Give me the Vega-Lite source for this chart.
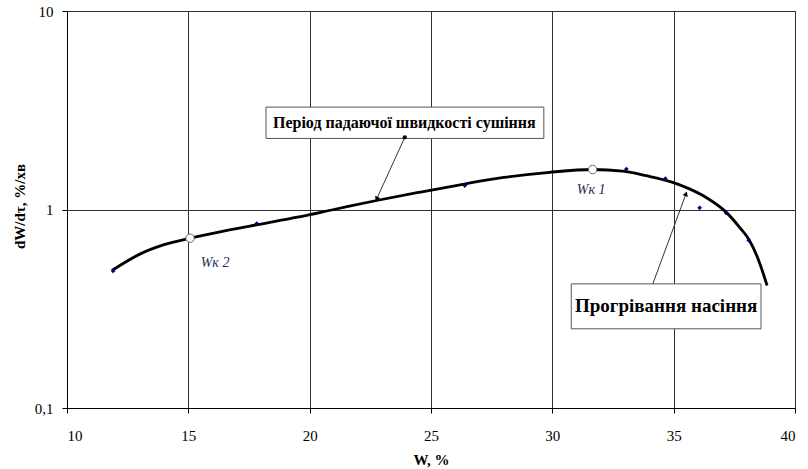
{
  "$schema": "https://vega.github.io/schema/vega-lite/v6.json",
  "width": 728,
  "height": 397,
  "autosize": {"type": "none"},
  "padding": {"left": 67, "top": 11, "right": 13, "bottom": 61},
  "background": "white",
  "config": {
    "view": {"stroke": "#8c8c8c", "strokeWidth": 1},
    "font": "Liberation Serif",
    "axis": {
      "labelFont": "Liberation Serif", "labelFontSize": 15, "labelColor": "#000",
      "titleFont": "Liberation Serif", "titleFontSize": 15, "titleFontWeight": "bold", "titleColor": "#000",
      "domainColor": "#000", "tickColor": "#000", "gridColor": "#303030", "gridWidth": 1, "gridOpacity": 1
    }
  },
  "datasets": {
    "curve": [
      {"W": 11.85, "R": 0.493}, {"W": 13.0, "R": 0.596}, {"W": 14.0, "R": 0.665}, 
      {"W": 15.07, "R": 0.717}, {"W": 16.5, "R": 0.78}, {"W": 18.0, "R": 0.845},
      {"W": 19.5, "R": 0.915}, {"W": 21.0, "R": 1.0}, {"W": 22.76, "R": 1.11}, 
      {"W": 24.5, "R": 1.22}, {"W": 26.31, "R": 1.34}, {"W": 28.0, "R": 1.45},
      {"W": 29.89, "R": 1.54}, {"W": 31.66, "R": 1.59}, {"W": 32.9, "R": 1.56},
      {"W": 33.87, "R": 1.48}, {"W": 34.96, "R": 1.37}, {"W": 35.65, "R": 1.27}, {"W": 36.34, "R": 1.15},
      {"W": 37.16, "R": 0.97}, {"W": 37.71, "R": 0.815}, {"W": 38.12, "R": 0.7}, {"W": 38.53, "R": 0.543},
      {"W": 38.85, "R": 0.414}
    ],
    "points": [
      {"W": 11.9, "R": 0.49}, {"W": 17.82, "R": 0.85}, {"W": 26.39, "R": 1.32}, {"W": 33.05, "R": 1.6},
      {"W": 34.66, "R": 1.43}, {"W": 36.07, "R": 1.02}, {"W": 37.16, "R": 0.96}, {"W": 38.09, "R": 0.7}
    ],
    "circles": [{"W": 15.07, "R": 0.717}, {"W": 31.66, "R": 1.59}],
    "boxes": [
      {"x1": 18.2, "x2": 29.65, "y1": 2.28, "y2": 3.28},
      {"x1": 30.78, "x2": 38.6, "y1": 0.2506, "y2": 0.422}
    ],
    "arrows": [
      {"x1": 23.92, "y1": 2.31, "x2": 22.76, "y2": 1.13},
      {"x1": 34.14, "y1": 0.422, "x2": 35.51, "y2": 1.2}
    ],
    "labels": [
      {"x": 31.6, "y": 1.25, "t": "Wк 1"},
      {"x": 16.1, "y": 0.54, "t": "Wк 2"}
    ],
    "notes": [
      {"x": 23.9, "y": 2.74, "t": "Період падаючої швидкості сушіння", "k": "a"},
      {"x": 34.69, "y": 0.325, "t": "Прогрівання насіння", "k": "b"}
    ]
  },
  "layer": [
    {
      "data": {"name": "curve"},
      "mark": {"type": "line", "opacity": 0},
      "encoding": {
        "x": {"field": "W", "type": "quantitative", "scale": {"domain": [10, 40], "nice": false, "zero": false},
          "axis": {"values": [10, 15, 20, 25, 30, 35, 40], "title": "W, %", "grid": true, "tickSize": 5, "labelPadding": 15, "titleY": 51, "titleBaseline": "middle"}},
        "y": {"field": "R", "type": "quantitative", "scale": {"type": "log", "domain": [0.1, 10], "nice": false},
          "axis": {"values": [0.1, 1, 10], "title": "dW/dτ, %/хв", "grid": true, "tickSize": 5, "labelPadding": 9,
            "labelExpr": "datum.value == 0.1 ? '0,1' : datum.value == 1 ? '1' : '10'", "titleX": -48, "titleY": 195, "titleBaseline": "middle"}}
      }
    },
    {
      "data": {"name": "boxes"},
      "mark": {"type": "rect", "fill": "white", "stroke": "#555", "strokeWidth": 1},
      "encoding": {
        "x": {"field": "x1", "type": "quantitative"}, "x2": {"field": "x2"},
        "y": {"field": "y1", "type": "quantitative"}, "y2": {"field": "y2"}
      }
    },
    {
      "data": {"name": "curve"},
      "mark": {"type": "line", "color": "#000", "strokeWidth": 2.8, "interpolate": "monotone"},
      "encoding": {"x": {"field": "W", "type": "quantitative"}, "y": {"field": "R", "type": "quantitative"}}
    },
    {
      "data": {"name": "points"},
      "mark": {"type": "point", "shape": "diamond", "filled": true, "color": "#00007f", "size": 22, "opacity": 1},
      "encoding": {"x": {"field": "W", "type": "quantitative"}, "y": {"field": "R", "type": "quantitative"}}
    },
    {
      "data": {"name": "circles"},
      "mark": {"type": "point", "shape": "circle", "filled": true, "fill": "white", "stroke": "#666", "strokeWidth": 1, "size": 70, "opacity": 1},
      "encoding": {"x": {"field": "W", "type": "quantitative"}, "y": {"field": "R", "type": "quantitative"}}
    },
    {
      "data": {"name": "arrows"},
      "mark": {"type": "rule", "color": "#333", "strokeWidth": 1},
      "encoding": {
        "x": {"field": "x1", "type": "quantitative"}, "x2": {"field": "x2"},
        "y": {"field": "y1", "type": "quantitative"}, "y2": {"field": "y2"}
      }
    },
    {
      "data": {"name": "arrows"},
      "transform": [{"filter": "datum.x1 < 30"}],
      "mark": {"type": "point", "shape": "triangle-up", "filled": true, "color": "#000", "size": 30, "angle": 204.7, "opacity": 1},
      "encoding": {"x": {"field": "x2", "type": "quantitative"}, "y": {"field": "y2", "type": "quantitative"}}
    },
    {
      "data": {"name": "arrows"},
      "transform": [{"filter": "datum.x1 > 30"}],
      "mark": {"type": "point", "shape": "triangle-up", "filled": true, "color": "#000", "size": 30, "angle": 20.4, "opacity": 1},
      "encoding": {"x": {"field": "x2", "type": "quantitative"}, "y": {"field": "y2", "type": "quantitative"}}
    },
    {
      "data": {"name": "arrows"},
      "transform": [{"filter": "datum.x1 < 30"}],
      "mark": {"type": "point", "shape": "circle", "filled": true, "color": "#000", "size": 18, "opacity": 1},
      "encoding": {"x": {"field": "x1", "type": "quantitative"}, "y": {"field": "y1", "type": "quantitative"}}
    },
    {
      "data": {"name": "labels"},
      "mark": {"type": "text", "font": "Liberation Serif", "fontStyle": "italic", "fontSize": 14, "color": "#2b2b5a"},
      "encoding": {"x": {"field": "x", "type": "quantitative"}, "y": {"field": "y", "type": "quantitative"}, "text": {"field": "t"}}
    },
    {
      "data": {"name": "notes"},
      "transform": [{"filter": "datum.k == 'a'"}],
      "mark": {"type": "text", "font": "Liberation Serif", "fontWeight": "bold", "fontSize": 16, "color": "#000"},
      "encoding": {"x": {"field": "x", "type": "quantitative"}, "y": {"field": "y", "type": "quantitative"}, "text": {"field": "t"}}
    },
    {
      "data": {"name": "notes"},
      "transform": [{"filter": "datum.k == 'b'"}],
      "mark": {"type": "text", "font": "Liberation Serif", "fontWeight": "bold", "fontSize": 19, "color": "#000"},
      "encoding": {"x": {"field": "x", "type": "quantitative"}, "y": {"field": "y", "type": "quantitative"}, "text": {"field": "t"}}
    }
  ]
}
